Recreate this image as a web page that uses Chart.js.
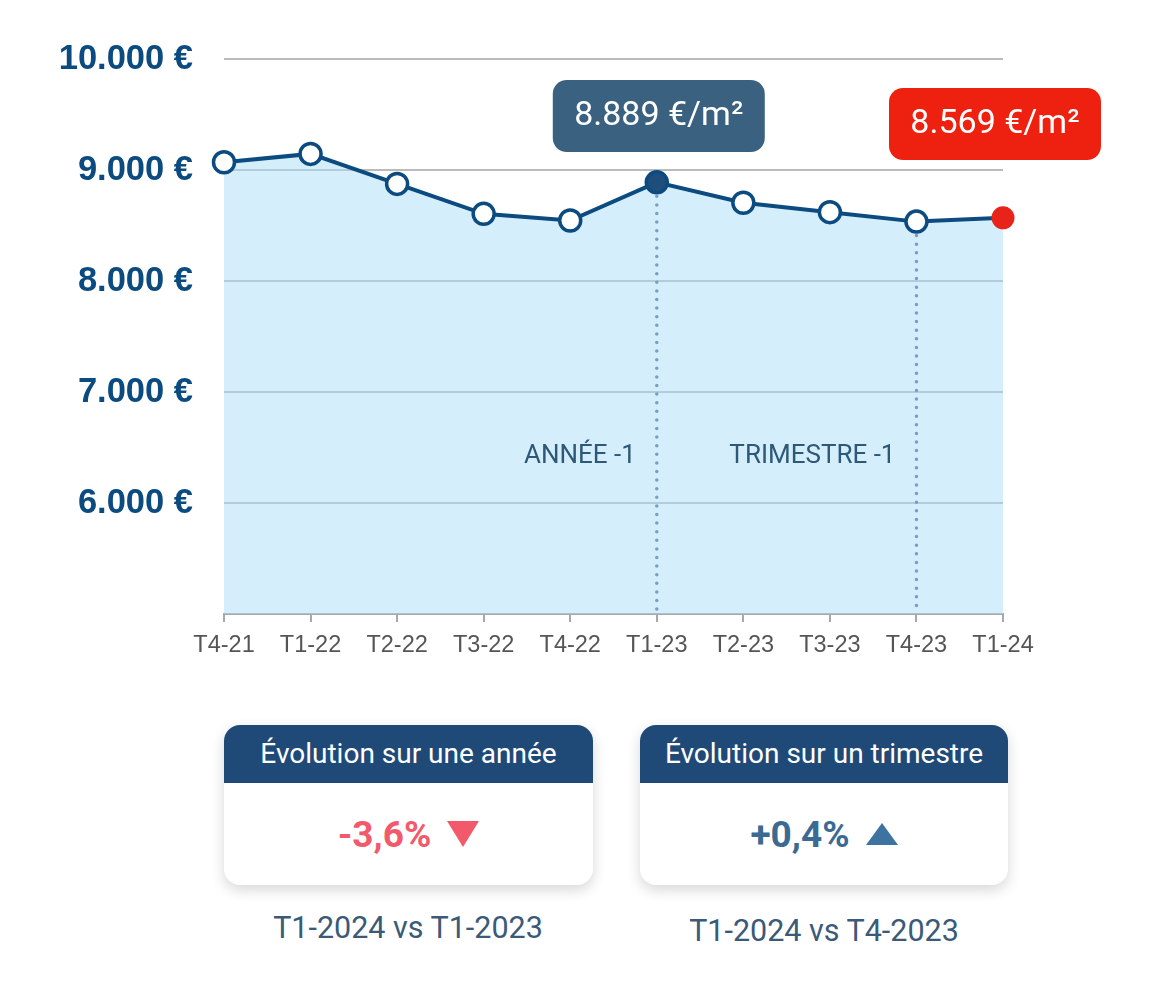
<!DOCTYPE html>
<html lang="fr">
<head>
<meta charset="utf-8">
<title>Prix au m²</title>
<script src="https://cdn.jsdelivr.net/npm/chart.js@4.4.0/dist/chart.umd.min.js"></script>
<style>
  html, body { margin: 0; padding: 0; background: #fff; }
  body { width: 1157px; height: 986px; position: relative; overflow: hidden; font-family: Roboto, sans-serif; }
  #wrap { position: absolute; left: 0; top: 0; width: 1157px; height: 680px; }
  .card { position: absolute; top: 725px; height: 160px; background: #fff; border-radius: 16px;
          box-shadow: 0 5px 14px rgba(0,0,0,0.16); overflow: hidden; }
  .card .head { height: 58px; background: #1f4a78; color: #fff; font-size: 28px; line-height: 58px; text-align: center; }
  .card .val { height: 102px; display: flex; align-items: center; justify-content: center; font-size: 37px; font-weight: 700; }
  .tri-down { display: inline-block; width: 0; height: 0; margin-left: 16px; border-left: 16px solid transparent;
              border-right: 16px solid transparent; border-top: 26px solid #f25a6c; }
  .tri-up { display: inline-block; width: 0; height: 0; margin-left: 16px; border-left: 16px solid transparent;
            border-right: 16px solid transparent; border-bottom: 22px solid #3d73a0; }
  .sub { position: absolute; width: 368px; text-align: center; font-size: 30.5px; color: #3a5a78; }
</style>
</head>
<body>
<div id="wrap"><canvas id="chart" width="1157" height="680"></canvas></div>

<div class="card" style="left:224px; width:369px;">
  <div class="head">Évolution sur une année</div>
  <div class="val" style="color:#f25a6c;">-3,6%<span class="tri-down"></span></div>
</div>
<div class="card" style="left:640px; width:368px;">
  <div class="head">Évolution sur un trimestre</div>
  <div class="val" style="color:#3b6a92;">+0,4%<span class="tri-up"></span></div>
</div>
<div class="sub" style="left:224px; top:910px;">T1-2024 vs T1-2023</div>
<div class="sub" style="left:640px; top:913px;">T1-2024 vs T4-2023</div>

<script>
const quarters = ['T4-21', 'T1-22', 'T2-22', 'T3-22', 'T4-22', 'T1-23', 'T2-23', 'T3-23', 'T4-23', 'T1-24'];
const prices = [9070, 9145, 8875, 8605, 8545, 8889, 8705, 8620, 8535, 8569];
const yTicks = [5000, 6000, 7000, 8000, 9000, 10000];
const markers = [
  { index: 5, label: 'ANNÉE -1' },
  { index: 8, label: 'TRIMESTRE -1' }
];
const bubbles = [
  { index: 5, text: '8.889 €/m²', color: '#3a6180', top: 21, dx: 2 },
  { index: 9, text: '8.569 €/m²', color: '#ee2010', top: 29, dx: -8 }
];

const last = prices.length - 1;

function fmt(v) {
  return v.toLocaleString('de-DE') + ' €';
}

const overlay = {
  id: 'overlay',
  afterDatasetsDraw(chart) {
    const ctx = chart.ctx;
    const meta = chart.getDatasetMeta(0);
    const area = chart.chartArea;

    // dotted reference lines + labels
    markers.forEach(m => {
      const pt = meta.data[m.index];
      ctx.save();
      ctx.strokeStyle = '#7b9cc4';
      ctx.lineWidth = 3.5;
      ctx.lineCap = 'round';
      ctx.setLineDash([0, 8.6]);
      ctx.beginPath();
      ctx.moveTo(pt.x, pt.y + 14);
      ctx.lineTo(pt.x, area.bottom - 4);
      ctx.stroke();
      ctx.restore();

      ctx.save();
      ctx.font = '26px Roboto';
      ctx.fillStyle = '#2d5878';
      ctx.textAlign = 'right';
      ctx.textBaseline = 'middle';
      ctx.fillText(m.label, pt.x - 21, area.top + 397);
      ctx.restore();
    });

    // value bubbles
    bubbles.forEach(b => {
      const pt = meta.data[b.index];
      const w = 212, h = 72;
      const x = pt.x + b.dx - w / 2;
      const y = area.top + b.top;
      ctx.save();
      ctx.fillStyle = b.color;
      ctx.beginPath();
      ctx.roundRect(x, y, w, h, 14);
      ctx.fill();
      ctx.fillStyle = '#fff';
      ctx.font = '34px Roboto';
      ctx.textAlign = 'center';
      ctx.textBaseline = 'middle';
      ctx.fillText(b.text, x + w / 2, y + h / 2);
      ctx.restore();
    });
  }
};

const ctx = document.getElementById('chart').getContext('2d');

new Chart(ctx, {
  type: 'line',
  data: {
    labels: quarters,
    datasets: [{
      data: prices,
      borderColor: '#0b4b80',
      borderWidth: 4,
      tension: 0,
      fill: 'start',
      backgroundColor: 'rgba(171,221,249,0.5)',
      pointRadius: prices.map((v, i) => i === last ? 11.5 : 10.5),
      pointBorderWidth: prices.map((v, i) => i === last ? 0 : 3.5),
      pointBackgroundColor: prices.map((v, i) => i === 5 ? '#1f4e7d' : (i === last ? '#e8231a' : '#ffffff')),
      pointBorderColor: prices.map((v, i) => i === last ? '#e8231a' : '#0b4b80'),
      pointHoverRadius: 10
    }]
  },
  options: {
    responsive: false,
    animation: false,
    layout: { padding: { left: 0, right: 154, top: 59, bottom: 16 } },
    plugins: { legend: { display: false }, tooltip: { enabled: false } },
    scales: {
      x: {
        offset: false,
        grid: { drawOnChartArea: false, drawTicks: true, tickLength: 8, color: '#a8a8a8', lineWidth: 2 },
        border: { display: true, color: '#a8a8a8', width: 2 },
        ticks: {
          font: { family: 'Liberation Sans', size: 23.5 },
          color: '#555',
          padding: 9,
          maxRotation: 0,
          autoSkip: false
        },
        afterFit(scale) { scale.height = 50; }
      },
      y: {
        min: yTicks[0],
        max: yTicks[yTicks.length - 1],
        afterBuildTicks(scale) { scale.ticks = yTicks.map(v => ({ value: v })); },
        grid: { drawTicks: false, color: 'rgba(150,150,150,0.65)', lineWidth: 2 },
        border: { display: false },
        ticks: {
          padding: 31,
          font: { family: 'Liberation Sans', size: 34.5, weight: 'bold' },
          color: '#0b4b80',
          callback: v => v === yTicks[0] ? '' : fmt(v)
        },
        afterFit(scale) { scale.width = 224; }
      }
    }
  },
  plugins: [overlay]
});
</script>
</body>
</html>
